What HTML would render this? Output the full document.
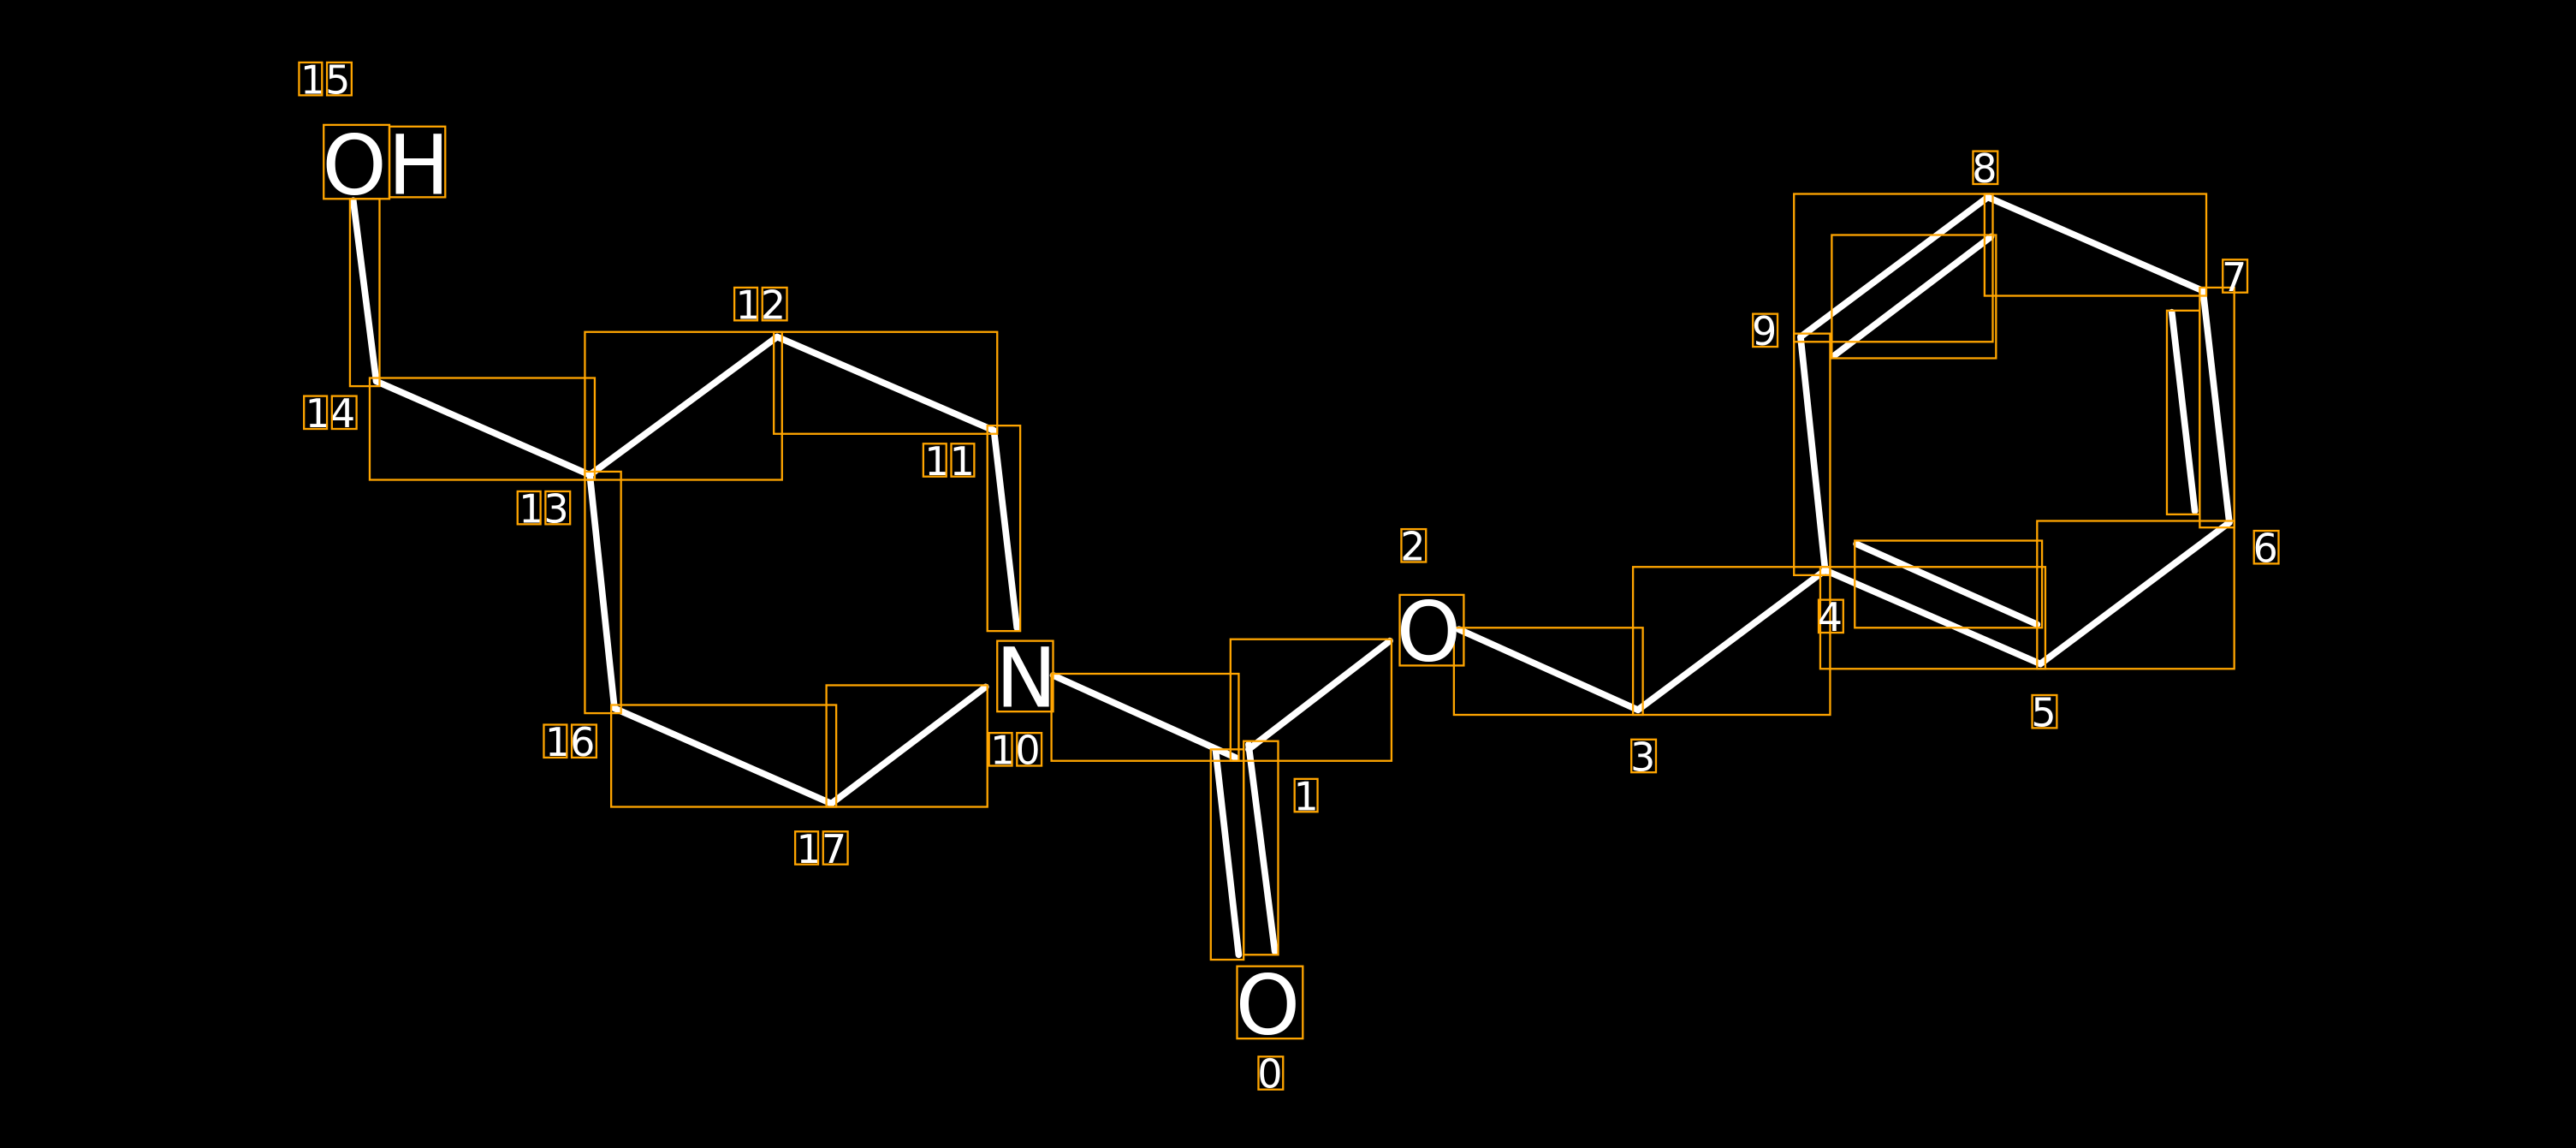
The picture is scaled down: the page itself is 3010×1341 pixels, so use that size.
<!DOCTYPE html>
<html><head><style>html,body{margin:0;padding:0;background:#000}svg{display:block}</style></head>
<body>
<svg width="3010" height="1341" viewBox="0 0 1568 698.6" xmlns="http://www.w3.org/2000/svg">
<rect width="1568" height="698.6" fill="#000"/>
<g stroke="#fff" stroke-width="4" stroke-linecap="round" fill="none">
<line x1="215" y1="122" x2="229" y2="232"/>
<line x1="229" y1="232" x2="359" y2="289"/>
<line x1="359" y1="289" x2="473" y2="205"/>
<line x1="473" y1="205" x2="605" y2="262"/>
<line x1="605" y1="262" x2="619" y2="382"/>
<line x1="359" y1="289" x2="374" y2="431"/>
<line x1="374" y1="431" x2="506" y2="489"/>
<line x1="506" y1="489" x2="600" y2="418"/>
<line x1="641" y1="411" x2="752" y2="461"/>
<line x1="760" y1="456" x2="846" y2="390"/>
<line x1="740" y1="457" x2="754" y2="581"/>
<line x1="760" y1="453" x2="776" y2="579"/>
<line x1="888" y1="383" x2="997" y2="432"/>
<line x1="997" y1="432" x2="1111" y2="347"/>
<line x1="1111" y1="347" x2="1096" y2="205"/>
<line x1="1096" y1="205" x2="1210" y2="120"/>
<line x1="1117" y1="216" x2="1212" y2="144"/>
<line x1="1210" y1="120" x2="1341" y2="177"/>
<line x1="1341" y1="177" x2="1357" y2="318"/>
<line x1="1322" y1="190" x2="1336" y2="311"/>
<line x1="1357" y1="318" x2="1242" y2="404"/>
<line x1="1242" y1="404" x2="1111" y2="347"/>
<line x1="1130" y1="331" x2="1240" y2="380"/>
</g>
<g stroke="#ffa500" stroke-width="1.2" fill="none">
<rect x="213" y="121" width="18" height="114"/>
<rect x="225" y="230" width="137" height="62"/>
<rect x="356" y="202" width="120" height="90"/>
<rect x="471" y="202" width="136" height="62"/>
<rect x="601" y="259" width="20" height="125"/>
<rect x="356" y="287" width="22" height="147"/>
<rect x="372" y="429" width="137" height="62"/>
<rect x="503" y="417" width="98" height="74"/>
<rect x="640" y="410" width="114" height="53"/>
<rect x="749" y="389" width="98" height="74"/>
<rect x="737" y="456" width="20" height="128"/>
<rect x="757" y="451" width="21" height="130"/>
<rect x="885" y="382" width="115" height="53"/>
<rect x="994" y="345" width="120" height="90"/>
<rect x="1092" y="203" width="22" height="147"/>
<rect x="1092" y="118" width="121" height="90"/>
<rect x="1115" y="143" width="100" height="75"/>
<rect x="1208" y="118" width="135" height="62"/>
<rect x="1339" y="175" width="21" height="146"/>
<rect x="1319" y="189" width="20" height="124"/>
<rect x="1240" y="317" width="120" height="90"/>
<rect x="1108" y="345" width="137" height="62"/>
<rect x="1129" y="329" width="114" height="53"/>
<rect x="197" y="76" width="40" height="45"/>
<rect x="237" y="77" width="34" height="43"/>
<rect x="607" y="390" width="34" height="43"/>
<rect x="852" y="362" width="39" height="43"/>
<rect x="753" y="588" width="40" height="44"/>
</g>
<g fill="#fff" font-family="'DejaVu Sans','Liberation Sans',sans-serif">
<text x="196" y="118" font-size="50">O</text>
<text x="236" y="118" font-size="50">H</text>
<text x="606" y="430" font-size="50">N</text>
<text x="850" y="402" font-size="50">O</text>
<text x="752" y="629" font-size="50">O</text>
</g>
<g fill="#fff" font-family="'DejaVu Sans','Liberation Sans',sans-serif" font-size="24" text-anchor="middle">
<text x="198" y="57">15</text>
<text x="463" y="194">12</text>
<text x="201" y="260">14</text>
<text x="331" y="318">13</text>
<text x="578" y="289">11</text>
<text x="347" y="460">16</text>
<text x="618" y="465">10</text>
<text x="500" y="525">17</text>
<text x="795" y="493">1</text>
<text x="773" y="662">0</text>
<text x="860" y="341">2</text>
<text x="1000" y="469">3</text>
<text x="1114" y="384">4</text>
<text x="1244" y="442">5</text>
<text x="1379" y="342">6</text>
<text x="1360" y="177">7</text>
<text x="1208" y="111">8</text>
<text x="1074" y="210">9</text>
</g>
<g stroke="#ffa500" stroke-width="1.2" fill="none">
<rect x="182" y="38" width="14" height="20"/><rect x="199" y="38" width="15" height="20"/>
<rect x="447" y="175" width="14" height="20"/><rect x="464" y="175" width="15" height="20"/>
<rect x="185" y="241" width="14" height="20"/><rect x="202" y="241" width="15" height="20"/>
<rect x="315" y="299" width="14" height="20"/><rect x="332" y="299" width="15" height="20"/>
<rect x="562" y="270" width="14" height="20"/><rect x="579" y="270" width="14" height="20"/>
<rect x="331" y="441" width="14" height="20"/><rect x="348" y="441" width="15" height="20"/>
<rect x="602" y="446" width="14" height="20"/><rect x="619" y="446" width="15" height="20"/>
<rect x="484" y="506" width="14" height="20"/><rect x="501" y="506" width="15" height="20"/>
<rect x="788" y="474" width="14" height="20"/>
<rect x="766" y="643" width="15" height="20"/>
<rect x="853" y="322" width="15" height="20"/>
<rect x="993" y="450" width="15" height="20"/>
<rect x="1107" y="365" width="15" height="20"/>
<rect x="1237" y="423" width="15" height="20"/>
<rect x="1372" y="323" width="15" height="20"/>
<rect x="1353" y="158" width="15" height="20"/>
<rect x="1201" y="92" width="15" height="20"/>
<rect x="1067" y="191" width="15" height="20"/>
</g>
</svg>
</body></html>
